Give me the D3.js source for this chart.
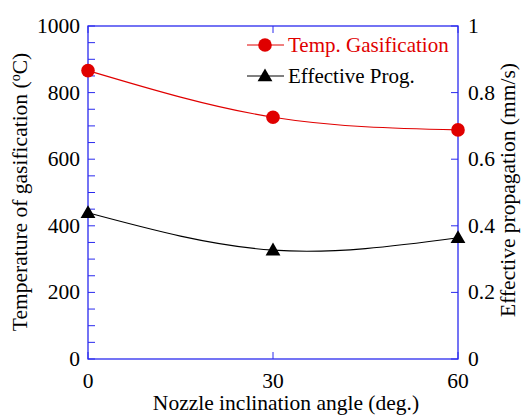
<!DOCTYPE html>
<html>
<head>
<meta charset="utf-8">
<script src="https://cdn.jsdelivr.net/npm/d3@7/dist/d3.min.js"></script>
<style>
body { margin: 0; background: #fff; }
svg text { font-family: "Liberation Serif", "Times New Roman", serif; }
</style>
</head>
<body>
<svg width="521" height="415"></svg>
<script>
// data
var angles = [0, 30, 60];
var tempGasification = [866, 726, 688];   // deg C, left axis
var effectiveProg = [0.439, 0.327, 0.364]; // mm/s, right axis
var xTicks = [0, 30, 60];
var leftTicks = [0, 200, 400, 600, 800, 1000];
var rightTicks = [0, 0.2, 0.4, 0.6, 0.8, 1];

var axisColor = "#2a2aee";
var red = "#e00000";

var margin = { left: 88, right: 63, top: 26, bottom: 56 };
var width = 521 - margin.left - margin.right;
var height = 415 - margin.top - margin.bottom;

var svg = d3.select("svg");
var g = svg.append("g").attr("transform", "translate(" + margin.left + "," + margin.top + ")");

var x = d3.scaleLinear().domain([0, 60]).range([0, width]);
var yL = d3.scaleLinear().domain([0, 1000]).range([height, 0]);
var yR = d3.scaleLinear().domain([0, 1]).range([height, 0]);

var tickLen = 7;

// frame
g.append("rect")
    .attr("width", width).attr("height", height)
    .attr("fill", "none").attr("stroke", axisColor).attr("stroke-width", 1.3);

// left ticks (every 50)
g.selectAll("line.lt")
    .data(d3.range(0, 1001, 50)).enter().append("line")
    .attr("x1", 0).attr("x2", tickLen)
    .attr("y1", yL).attr("y2", yL)
    .attr("stroke", axisColor);

// right ticks
g.selectAll("line.rt")
    .data(rightTicks).enter().append("line")
    .attr("x1", width).attr("x2", width - tickLen)
    .attr("y1", yR).attr("y2", yR)
    .attr("stroke", axisColor);

// bottom and top ticks
g.selectAll("line.bt")
    .data(xTicks).enter().append("line")
    .attr("x1", x).attr("x2", x)
    .attr("y1", height).attr("y2", height - tickLen)
    .attr("stroke", axisColor);
g.selectAll("line.tt")
    .data(xTicks).enter().append("line")
    .attr("x1", x).attr("x2", x)
    .attr("y1", 0).attr("y2", tickLen)
    .attr("stroke", axisColor);

// tick labels
g.selectAll("text.ly")
    .data(leftTicks).enter().append("text")
    .attr("x", -8).attr("y", function (d) { return yL(d) + 7; })
    .attr("text-anchor", "end")
    .attr("font-size", 21.5)
    .text(function (d) { return d; });

g.selectAll("text.ry")
    .data(rightTicks).enter().append("text")
    .attr("x", width + 10).attr("y", function (d) { return yR(d) + 7; })
    .attr("text-anchor", "start")
    .attr("font-size", 21.5)
    .text(function (d) { return d; });

g.selectAll("text.xl")
    .data(xTicks).enter().append("text")
    .attr("x", x).attr("y", 388 - margin.top)
    .attr("text-anchor", "middle")
    .attr("font-size", 21.5)
    .text(function (d) { return d; });

// axis titles
svg.append("text")
    .attr("x", margin.left + width / 2 + 13).attr("y", 410)
    .attr("text-anchor", "middle")
    .attr("font-size", 21.5)
    .text("Nozzle inclination angle (deg.)");

var lt = svg.append("text")
    .attr("transform", "translate(27,192) rotate(-90)")
    .attr("text-anchor", "middle")
    .attr("font-size", 21.5);
lt.append("tspan").text("Temperature of gasification (");
lt.append("tspan").attr("baseline-shift", "super").attr("font-size", 14).text("o");
lt.append("tspan").text("C)");

svg.append("text")
    .attr("transform", "translate(515,190) rotate(-90)")
    .attr("text-anchor", "middle")
    .attr("font-size", 21.5)
    .text("Effective propagation (mm/s)");

// curves
var lineL = d3.line()
    .x(function (d, i) { return x(angles[i]); })
    .y(function (d) { return yL(d); })
    .curve(d3.curveNatural);
var lineR = d3.line()
    .x(function (d, i) { return x(angles[i]); })
    .y(function (d) { return yR(d); })
    .curve(d3.curveNatural);

g.append("path").datum(tempGasification)
    .attr("d", lineL).attr("fill", "none").attr("stroke", red).attr("stroke-width", 1.1);
g.append("path").datum(effectiveProg)
    .attr("d", lineR).attr("fill", "none").attr("stroke", "#000").attr("stroke-width", 1.1);

var tri = d3.symbol().type(d3.symbolTriangle).size(95);

g.selectAll("circle.t")
    .data(tempGasification).enter().append("circle")
    .attr("cx", function (d, i) { return x(angles[i]); })
    .attr("cy", yL)
    .attr("r", 6.8)
    .attr("fill", red);

g.selectAll("path.e")
    .data(effectiveProg).enter().append("path")
    .attr("d", tri)
    .attr("transform", function (d, i) { return "translate(" + x(angles[i]) + "," + (yR(d) + 1) + ")"; })
    .attr("fill", "#000");

// legend
var leg = svg.append("g");
leg.append("line").attr("x1", 247).attr("x2", 284).attr("y1", 45).attr("y2", 45).attr("stroke", red);
leg.append("circle").attr("cx", 265).attr("cy", 45).attr("r", 6.8).attr("fill", red);
leg.append("text").attr("x", 288).attr("y", 52).attr("font-size", 21).attr("fill", red).text("Temp. Gasification");
leg.append("line").attr("x1", 247).attr("x2", 284).attr("y1", 76).attr("y2", 76).attr("stroke", "#000");
leg.append("path").attr("d", tri).attr("transform", "translate(265,77)").attr("fill", "#000");
leg.append("text").attr("x", 288).attr("y", 83).attr("font-size", 21).attr("fill", "#000").text("Effective Prog.");
</script>
</body>
</html>
